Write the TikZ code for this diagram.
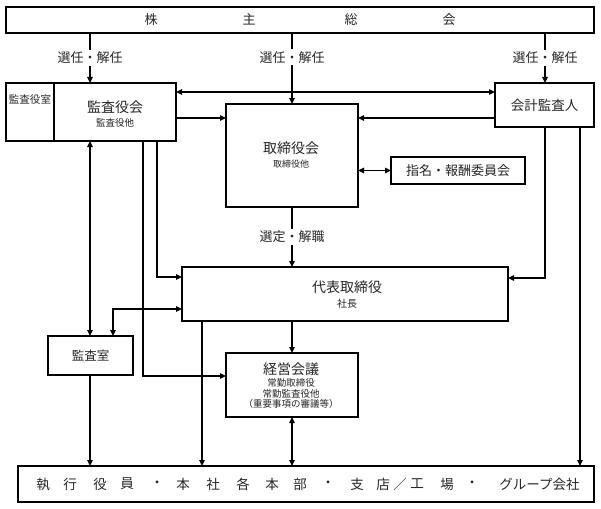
\documentclass[tikz,border=0pt]{standalone}
\usepackage{fontspec}
\newfontfamily\jp{Noto Sans CJK JP}
\usetikzlibrary{arrows.meta}
\newcommand\fsz[1]{\fontsize{#1}{#1}\selectfont}
\begin{document}
\begin{tikzpicture}[x=1pt,y=-1pt,
  box/.style={draw,line width=1.4pt,inner sep=0pt,outer sep=0pt,font=\jp,text=black!85},
  txt/.style={inner sep=0pt,font=\jp,text=black!85},
  lbl/.style={fill=white,inner sep=2pt,font=\jp\fsz{13pt},text=black!85},
  conn/.style={line width=1.3pt,-{Triangle[length=6pt,width=5.5pt]}},
  dbl/.style={line width=1.3pt,{Triangle[length=6pt,width=5.5pt]}-{Triangle[length=6pt,width=5.5pt]}}]
\useasboundingbox (0,0) rectangle (601,508);
\fill[white] (0,0) rectangle (601,508);
% boxes
\node[box,minimum width=588pt,minimum height=26pt] (sh) at (300,20)
  {\fsz{13pt}株\hspace{85pt}主\hspace{89pt}総\hspace{85pt}会};
\node[box,minimum width=48pt,minimum height=58pt] (kroom) at (30,112) {};
\node[box,minimum width=122pt,minimum height=58pt] (kkai) at (115,112) {};
\node[box,minimum width=99pt,minimum height=44pt] (kaikei) at (544.5,105) {\fsz{13.5pt}会計監査人};
\node[box,minimum width=132pt,minimum height=103pt] (tori) at (292,155.5) {};
\node[box,minimum width=134pt,minimum height=27pt] (shimei) at (458,170.5) {\fsz{13pt}指名・報酬委員会};
\node[box,minimum width=326pt,minimum height=54pt] (daihyo) at (345,294) {};
\node[box,minimum width=85pt,minimum height=39pt] (kshitsu) at (90.5,355.5) {\fsz{12.5pt}監査室};
\node[box,minimum width=132pt,minimum height=64pt] (keiei) at (292,385) {};
\node[box,minimum width=576pt,minimum height=36pt] (bottom) at (306,484) {};
% texts in boxes
\node[txt] (t-kroom) at (30,100) {\fsz{10.5pt}監査役室};
\node[txt] (t-kkai1) at (115,107) {\fsz{14pt}監査役会};
\node[txt] (t-kkai2) at (115,123) {\fsz{9.5pt}監査役他};
\node[txt] (t-tori1) at (291,148) {\fsz{14pt}取締役会};
\node[txt] (t-tori2) at (291,164) {\fsz{9pt}取締役他};
\node[txt] (t-dai1) at (347,287) {\fsz{14pt}代表取締役};
\node[txt] (t-dai2) at (347,304) {\fsz{10pt}社長};
\node[txt] (t-kei1) at (291,369) {\fsz{14pt}経営会議};
\node[txt] (t-kei2) at (291,383) {\fsz{9.5pt}常勤取締役};
\node[txt] (t-kei3) at (291,393.5) {\fsz{9.5pt}常勤監査役他};
\node[txt] (t-kei4) at (291,404) {\fsz{9.5pt}（重要事項の審議等）};
\foreach \xx/\cc [count=\i] in {43/執,70/行,100/役,127/員,157/・,183/本,213/社,243/各,272/本,300/部,328/・,357/支,383/店,400/／,417/工,447/場,472/・}
  \node[txt] (b\i) at (\xx,484) {\fsz{13.5pt}\cc};
\node[txt] (bg) at (539.5,484) {\fsz{13.5pt}グループ会社};
% helper coordinates
\coordinate (x90) at (90,0);
\coordinate (x113) at (113,0);
\coordinate (x143) at (143,0);
\coordinate (x157) at (157,0);
\coordinate (x202) at (202,0);
\coordinate (x292) at (292,0);
\coordinate (x545) at (545,0);
\coordinate (x580) at (580,0);
\coordinate (y92) at (0,92);
\coordinate (y118) at (0,118);
\coordinate (y277) at (0,277);
\coordinate (y278) at (0,278);
\coordinate (y309) at (0,309);
\coordinate (y376) at (0,376);
% connectors
\draw[conn] (sh.south -| x90) -- (kkai.north -| x90) node[midway,lbl] {選任・解任};
\draw[conn] (sh.south -| x292) -- (tori.north) node[pos=0.34,lbl] {選任・解任};
\draw[conn] (sh.south -| x545) -- (kaikei.north -| x545) node[midway,lbl] {選任・解任};
\draw[dbl] (kkai.east |- y92) -- (kaikei.west |- y92);
\draw[conn] (kkai.east |- y118) -- (tori.west |- y118);
\draw[conn] (kaikei.west |- y118) -- (tori.east |- y118);
\draw[dbl] (tori.east |- shimei.west) -- (shimei.west);
\draw[conn] (tori.south) -- (daihyo.north -| tori.south) node[midway,lbl] {選定・解職};
\draw[conn] (kaikei.south -| x545) |- (daihyo.east |- y278);
\draw[conn] (kaikei.south -| x580) -- (bottom.north -| x580);
\draw[dbl] (kkai.south -| x90) -- (kshitsu.north -| x90);
\draw[conn] (kkai.south -| x157) |- (daihyo.west |- y277);
\draw[conn] (kkai.south -| x143) |- (keiei.west |- y376);
\draw[dbl] (kshitsu.north -| x113) |- (daihyo.west |- y309);
\draw[conn] (kshitsu.south -| x90) -- (bottom.north -| x90);
\draw[conn] (daihyo.south -| x202) -- (bottom.north -| x202);
\draw[conn] (daihyo.south -| x292) -- (keiei.north);
\draw[dbl] (keiei.south) -- (bottom.north -| keiei.south);
\end{tikzpicture}
\end{document}
